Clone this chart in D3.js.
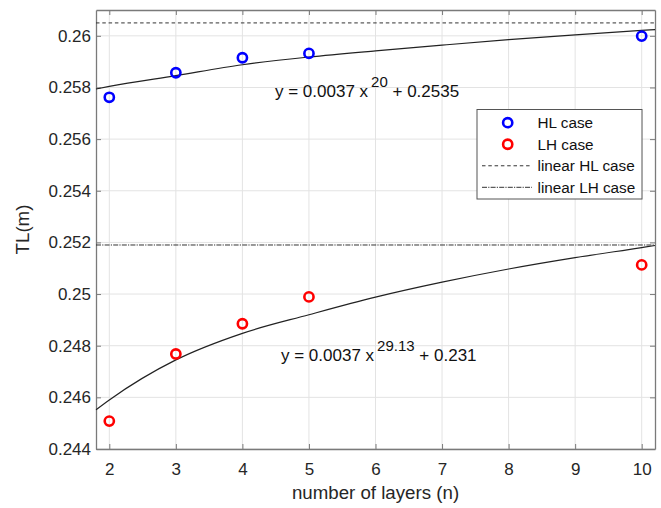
<!DOCTYPE html>
<html>
<head>
<meta charset="utf-8">
<script src="https://cdn.jsdelivr.net/npm/d3@7"></script>
<style>
  body { margin: 0; background: #fff; }
  text { font-family: "Liberation Sans", Arial, sans-serif; }
</style>
</head>
<body>
<div id="chart"></div>
<script>
// measured points
var layers = [2, 3, 4, 5, 10];
var hlCase = [0.25762, 0.25857, 0.25915, 0.25932, 0.25999];
var lhCase = [0.24508, 0.24768, 0.24885, 0.24989, 0.25113];

// fitted curves
var fitX = [1.8, 2, 3, 4, 5, 6, 7, 8, 9, 10, 10.2];
var hlFit = [0.25794, 0.25804, 0.25846, 0.25888, 0.25918, 0.25942, 0.25964, 0.25985, 0.26004, 0.26021, 0.26024];
var lhFit = [0.24552, 0.24590, 0.24745, 0.24848, 0.24920, 0.24988, 0.25046, 0.25097, 0.25141, 0.25180, 0.25188];

// linear references
var linearHL = 0.2605;
var linearLH = 0.2519;

var xTicks = [2, 3, 4, 5, 6, 7, 8, 9, 10];
var yTicks = [0.244, 0.246, 0.248, 0.25, 0.252, 0.254, 0.256, 0.258, 0.26];
var yTickLabels = ["0.244", "0.246", "0.248", "0.25", "0.252", "0.254", "0.256", "0.258", "0.26"];

var legendNames = ["HL case", "LH case", "linear HL case", "linear LH case"];
var hlEq = ["y = 0.0037 x", "20", " + 0.2535"];
var lhEq = ["y = 0.0037 x", "29.13", " + 0.231"];

var width = 661,
    height = 508,
    margin = {top: 10, right: 6, bottom: 59, left: 96};

var svg = d3.select("#chart").append("svg")
    .attr("width", width)
    .attr("height", height);

var x = d3.scaleLinear()
    .domain([1.8, 10.2])
    .range([margin.left, width - margin.right]);

var y = d3.scaleLinear()
    .domain([0.244, 0.261])
    .range([height - margin.bottom, margin.top]);

var plotLeft = x.range()[0], plotRight = x.range()[1],
    plotTop = y.range()[1], plotBottom = y.range()[0];

// grid
svg.append("g")
  .selectAll("line")
  .data(xTicks)
  .enter().append("line")
    .attr("x1", d => x(d)).attr("x2", d => x(d))
    .attr("y1", plotTop).attr("y2", plotBottom)
    .attr("stroke", "#e3e3e3");

svg.append("g")
  .selectAll("line")
  .data(yTicks)
  .enter().append("line")
    .attr("x1", plotLeft).attr("x2", plotRight)
    .attr("y1", d => y(d)).attr("y2", d => y(d))
    .attr("stroke", "#e3e3e3");

// axes, ticks pointing inward
var xAxis = svg.append("g")
    .attr("transform", "translate(0," + plotBottom + ")")
    .call(d3.axisBottom(x).tickValues(xTicks).tickFormat(d3.format("d"))
      .tickSizeInner(-5).tickSizeOuter(0).tickPadding(14));

var xAxisTop = svg.append("g")
    .attr("transform", "translate(0," + plotTop + ")")
    .call(d3.axisTop(x).tickValues(xTicks).tickFormat("")
      .tickSizeInner(-5).tickSizeOuter(0));

var yAxis = svg.append("g")
    .attr("transform", "translate(" + plotLeft + ",0)")
    .call(d3.axisLeft(y).tickValues(yTicks).tickFormat((d, i) => yTickLabels[i])
      .tickSizeInner(-5).tickSizeOuter(0).tickPadding(5));

var yAxisRight = svg.append("g")
    .attr("transform", "translate(" + plotRight + ",0)")
    .call(d3.axisRight(y).tickValues(yTicks).tickFormat("")
      .tickSizeInner(-5).tickSizeOuter(0));

[xAxis, xAxisTop, yAxis, yAxisRight].forEach(function(g) {
  g.select(".domain").attr("stroke", "#7a7a7a").attr("stroke-width", 1.3);
  g.selectAll(".tick line").attr("stroke", "#7a7a7a");
  g.selectAll("text")
    .attr("font-size", "17px")
    .attr("font-family", "Liberation Sans, Arial, sans-serif")
    .attr("fill", "#262626");
});

// reference lines
var dashHL = "3.5,2.8";
var dashLH = "5,1.2,1.2,1.2";

svg.append("line")
    .attr("x1", plotLeft).attr("x2", plotRight)
    .attr("y1", y(linearHL)).attr("y2", y(linearHL))
    .attr("stroke", "#333").attr("stroke-dasharray", dashHL);

svg.append("line")
    .attr("x1", plotLeft).attr("x2", plotRight)
    .attr("y1", y(linearLH)).attr("y2", y(linearLH))
    .attr("stroke", "#333").attr("stroke-dasharray", dashLH);

// fit curves
var line = d3.line()
    .x((d, i) => x(fitX[i]))
    .y(d => y(d))
    .curve(d3.curveMonotoneX);

svg.append("path")
    .attr("d", line(hlFit))
    .attr("fill", "none")
    .attr("stroke", "#222")
    .attr("stroke-width", 1.2);

svg.append("path")
    .attr("d", line(lhFit))
    .attr("fill", "none")
    .attr("stroke", "#222")
    .attr("stroke-width", 1.2);

// markers
function markers(values, color) {
  svg.append("g")
    .selectAll("circle")
    .data(values)
    .enter().append("circle")
      .attr("cx", (d, i) => x(layers[i]))
      .attr("cy", d => y(d))
      .attr("r", 4.6)
      .attr("fill", "none")
      .attr("stroke", color)
      .attr("stroke-width", 2.6);
}
markers(hlCase, "#0000ff");
markers(lhCase, "#ff0000");

// equations
function equation(parts, px, py) {
  var t = svg.append("text")
      .attr("x", px)
      .attr("y", py)
      .attr("font-size", "17px")
      .attr("fill", "#111");
  t.append("tspan").text(parts[0]);
  t.append("tspan").attr("dx", 3).attr("dy", -10).attr("font-size", "15px").text(parts[1]);
  t.append("tspan").attr("dy", 10).text(parts[2]);
}
equation(hlEq, 275, 97);
equation(lhEq, 281, 361);

// legend
var legend = svg.append("g");
legend.append("rect")
    .attr("x", 477).attr("y", 109.5)
    .attr("width", 165).attr("height", 89.5)
    .attr("fill", "#fff")
    .attr("stroke", "#555");

var rowY = d3.scalePoint().domain(legendNames).range([122.7, 187.3]);

legendNames.forEach(function(name, i) {
  var ly = rowY(name);
  if (i < 2) {
    legend.append("circle")
        .attr("cx", 507.7).attr("cy", ly).attr("r", 4.6)
        .attr("fill", "none")
        .attr("stroke", i == 0 ? "#0000ff" : "#ff0000")
        .attr("stroke-width", 2.6);
  } else {
    legend.append("line")
        .attr("x1", 482).attr("x2", 532)
        .attr("y1", ly).attr("y2", ly)
        .attr("stroke", "#333")
        .attr("stroke-dasharray", i == 2 ? dashHL : dashLH);
  }
  legend.append("text")
      .attr("x", 537.5).attr("y", ly)
      .attr("dy", "0.35em")
      .attr("font-size", "15.3px")
      .attr("fill", "#111")
      .text(name);
});

// axis labels
svg.append("text")
    .attr("x", (plotLeft + plotRight) / 2)
    .attr("y", 499)
    .attr("text-anchor", "middle")
    .attr("font-size", "18.7px")
    .attr("fill", "#262626")
    .text("number of layers (n)");

svg.append("text")
    .attr("transform", "translate(28.5," + ((plotTop + plotBottom) / 2) + ") rotate(-90)")
    .attr("text-anchor", "middle")
    .attr("font-size", "18.7px")
    .attr("fill", "#262626")
    .text("TL(m)");
</script>
</body>
</html>
